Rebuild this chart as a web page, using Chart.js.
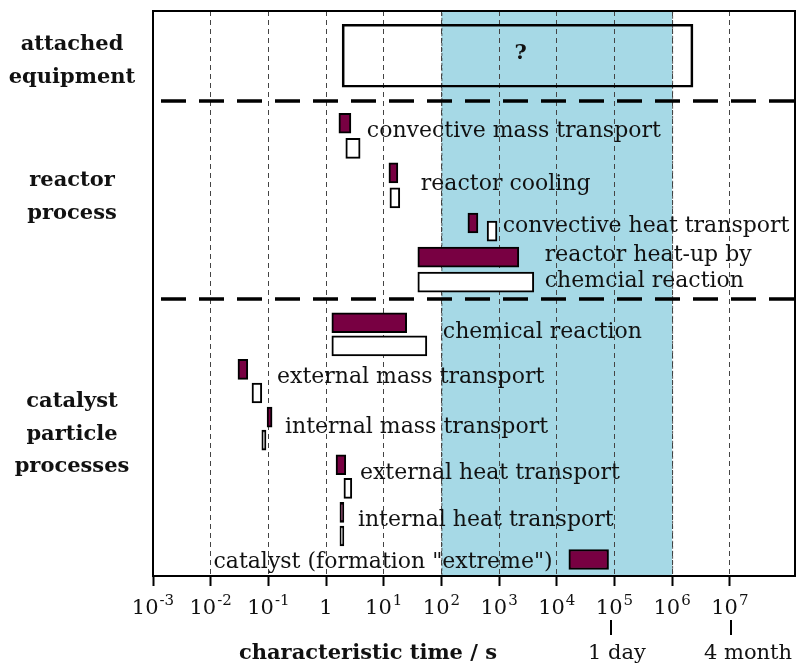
<!DOCTYPE html>
<html>
<head>
<meta charset="utf-8">
<script src="https://cdn.jsdelivr.net/npm/chart.js@4"></script>
<style>
  html, body { margin: 0; padding: 0; background: #fff; }
  #wrap { width: 800px; height: 663px; }
</style>
</head>
<body>
<div id="wrap"><canvas id="timescales"></canvas></div>
<script>
// characteristic times in seconds, [start, end] of each range
const processes = [
  'convective mass transport',
  'reactor cooling',
  'convective heat transport',
  'reactor heat-up by chemcial reaction',
  'chemical reaction',
  'external mass transport',
  'internal mass transport',
  'external heat transport',
  'internal heat transport',
  'catalyst (formation "extreme")'
];
const filledStart = [1.67, 12.3, 288, 39, 1.26, 0.0297, 0.095, 1.49, 1.74, 16200];
const filledEnd   = [2.7, 17.6, 430, 2200, 25, 0.044, 0.116, 2.2, 2.04, 79000];
const openStart   = [2.2, 12.8, 620, 39, 1.26, 0.052, 0.077, 2.04, 1.74];
const openEnd     = [3.9, 19, 920, 4000, 56, 0.077, 0.091, 2.8, 2.04];
const equipmentRange = [1.9, 2.3e6];
const windowRange = [1e2, 1e6];
const decades = [-3, -2, -1, 0, 1, 2, 3, 4, 5, 6, 7];
const timeMarks = [['1 day', 86400], ['4 month', 1.0368e7]];

// vertical layout (rows counted from the top of the plot)
const filledRow = [4.57, 6.59, 8.63, 10.02, 12.69, 14.59, 16.53, 18.47, 20.41, 22.33];
const openRow   = [5.59, 7.61, 8.96, 11.04, 13.63, 15.55, 17.47, 19.43, 21.37];
const equipmentRow = 1.82;
const separatorRows = [3.67, 11.71];

// where each process name is written: [text, x in s, row, align]
const labelSpots = [
  ['convective mass transport', 5.1, 4.88, 'left'],
  ['reactor cooling', 44, 7.04, 'left'],
  ['convective heat transport', 1160, 8.75, 'left'],
  ['reactor heat-up by', 6200, 9.93, 'left'],
  ['chemcial reaction', 6200, 10.99, 'left'],
  ['chemical reaction', 106, 13.07, 'left'],
  ['external mass transport', 0.141, 14.9, 'left'],
  ['internal mass transport', 0.194, 16.93, 'left'],
  ['external heat transport', 3.87, 18.81, 'left'],
  ['internal heat transport', 3.57, 20.72, 'left'],
  ['catalyst (formation "extreme")', 8500, 22.43, 'right']
];
const groupLabels = [
  [['attached', 'equipment'], 45],
  [['reactor', 'process'], 181],
  [['catalyst', 'particle', 'processes'], 402]
];

const SERIF = '"DejaVu Serif", serif';
const MAROON = '#780042';
const BAND = '#a6d9e6';

const filledData = filledStart.map((s, i) => ({ x: [s, filledEnd[i]], y: filledRow[i] }));
const openData = openStart.map((s, i) => ({ x: [s, openEnd[i]], y: openRow[i] }));

const decor = {
  id: 'decor',
  beforeDraw(chart) {
    const { ctx, chartArea: a, scales: { x } } = chart;
    const x0 = x.getPixelForValue(windowRange[0]);
    const x1 = x.getPixelForValue(windowRange[1]);
    ctx.save();
    ctx.fillStyle = BAND;
    ctx.fillRect(x0, a.top, x1 - x0, a.bottom - a.top);
    ctx.strokeStyle = '#555';
    ctx.lineWidth = 1;
    ctx.setLineDash([3, 2]);
    ctx.strokeRect(x0 + 0.5, a.top + 0.5, x1 - x0, a.bottom - a.top - 1);
    ctx.restore();
  },
  afterDatasetsDraw(chart) {
    const { ctx, chartArea: a, scales: { x, y } } = chart;
    ctx.save();
    // group separators
    ctx.strokeStyle = '#000';
    ctx.lineWidth = 3.5;
    ctx.setLineDash([25, 13]);
    separatorRows.forEach(r => {
      const py = Math.round(y.getPixelForValue(r));
      ctx.beginPath();
      ctx.moveTo(a.left + 8, py);
      ctx.lineTo(a.right, py);
      ctx.stroke();
    });
    ctx.setLineDash([]);
    // frame
    ctx.lineWidth = 2;
    ctx.strokeRect(a.left, a.top, a.right - a.left, a.bottom - a.top);
    // process names
    ctx.fillStyle = '#111';
    ctx.font = '22px ' + SERIF;
    ctx.textBaseline = 'middle';
    labelSpots.forEach(([t, xv, r, align]) => {
      ctx.textAlign = align;
      ctx.fillText(t, x.getPixelForValue(xv), y.getPixelForValue(r));
    });
    // unknown range of the attached equipment
    const qx = Math.sqrt(equipmentRange[0] * equipmentRange[1]);
    ctx.font = 'bold 21px ' + SERIF;
    ctx.textAlign = 'center';
    ctx.fillText('?', x.getPixelForValue(qx) + 3, y.getPixelForValue(equipmentRow) - 2);
    ctx.restore();
  },
  afterDraw(chart) {
    const { ctx, scales: { x } } = chart;
    ctx.save();
    ctx.fillStyle = '#111';
    ctx.textBaseline = 'alphabetic';
    // decade labels with raised exponents
    decades.forEach(d => {
      const px = x.getPixelForValue(Math.pow(10, d));
      const base = d === 0 ? '1' : '10';
      const exp = d === 0 ? '' : String(d);
      ctx.font = '21px ' + SERIF;
      const wb = ctx.measureText(base).width;
      ctx.font = '15px ' + SERIF;
      const we = exp ? ctx.measureText(exp).width + 1 : 0;
      const left = px - (wb + we) / 2;
      ctx.font = '21px ' + SERIF;
      ctx.textAlign = 'left';
      ctx.fillText(base, left, 614);
      if (exp) {
        ctx.font = '15px ' + SERIF;
        ctx.fillText(exp, left + wb + 1, 605);
      }
    });
    // day / month markers
    ctx.strokeStyle = '#000';
    ctx.lineWidth = 2;
    timeMarks.forEach(([t, v], i) => {
      const px = Math.round(x.getPixelForValue(v));
      ctx.beginPath();
      ctx.moveTo(px, 620);
      ctx.lineTo(px, 635);
      ctx.stroke();
      ctx.font = '21px ' + SERIF;
      ctx.textAlign = i === 0 ? 'center' : 'left';
      ctx.fillText(t, i === 0 ? px + 6 : px - 27, 659);
    });
    // axis title
    ctx.font = 'bold 21px ' + SERIF;
    ctx.textAlign = 'center';
    ctx.fillText('characteristic time / s', 368, 659);
    // group names on the left
    ctx.textBaseline = 'middle';
    groupLabels.forEach(([lines, top]) => {
      lines.forEach((l, i) => ctx.fillText(l, 72, top + i * 32.5));
    });
    ctx.restore();
  }
};

new Chart(document.getElementById('timescales'), {
  type: 'bar',
  data: {
    datasets: [{
      label: 'attached equipment',
      data: [{ x: equipmentRange, y: equipmentRow }],
      backgroundColor: 'rgba(0,0,0,0)',
      borderColor: '#000',
      borderWidth: 2,
      borderSkipped: false,
      barThickness: 63
    }, {
      label: 'filled',
      data: filledData,
      backgroundColor: MAROON,
      borderColor: '#000',
      borderWidth: 2,
      borderSkipped: false,
      barThickness: 20
    }, {
      label: 'open',
      data: openData,
      backgroundColor: '#fff',
      borderColor: '#000',
      borderWidth: 2,
      borderSkipped: false,
      barThickness: 20
    }]
  },
  options: {
    indexAxis: 'y',
    responsive: true,
    maintainAspectRatio: false,
    animation: false,
    grouped: false,
    layout: { padding: { left: 153, right: 5, top: 11, bottom: 0 } },
    plugins: { legend: { display: false }, tooltip: { enabled: false } },
    scales: {
      x: {
        type: 'logarithmic',
        min: 1e-3,
        max: 1.35e8,
        afterBuildTicks: s => { s.ticks = decades.map(d => ({ value: Math.pow(10, d) })); },
        afterFit: s => { s.height = 87; },
        ticks: { display: false },
        grid: {
          color: '#444',
          lineWidth: 1,
          tickColor: '#000',
          tickWidth: 2,
          tickLength: 10,
          tickBorderDash: []
        },
        border: { display: true, color: '#000', width: 2, dash: [5, 4] }
      },
      y: {
        type: 'linear',
        min: 0,
        max: 23,
        reverse: true,
        offset: false,
        display: false
      }
    }
  },
  plugins: [decor]
});
</script>
</body>
</html>
